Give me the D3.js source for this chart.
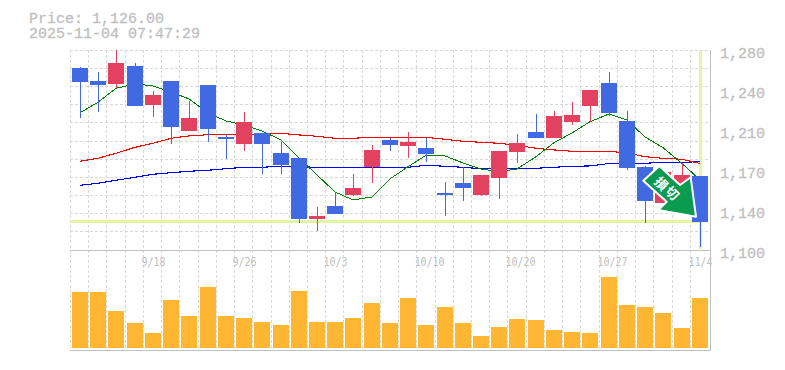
<!DOCTYPE html>
<html>
<head>
<meta charset="utf-8">
<script src="https://cdnjs.cloudflare.com/ajax/libs/d3/7.8.5/d3.min.js"></script>
<style>html,body{margin:0;padding:0;background:#fff;}svg{display:block;}</style>
</head>
<body>
<script>
const titleLines = ["Price: 1,126.00", "2025-11-04 07:47:29"];
const currentPrice = 1126;
const open  = [1264.3,1252.6,1249.9,1266.1,1231,1252.6,1207.6,1249,1202.2,1195.9,1205.8,1187.8,1183.3,1128.4,1140.1,1150,1175.2,1199.5,1194.1,1192.3,1151.8,1160.8,1150,1165.3,1188.7,1206.7,1201.3,1215.7,1230.1,1250.8,1216.6,1175.2,1142.8,1154.5,1167.1];
const high  = [1265.2,1260.7,1280.5,1268.8,1243.6,1252.6,1234.6,1249,1204,1224.7,1205.8,1197.7,1183.3,1139.2,1152.7,1168.9,1195,1201.3,1206.7,1201.3,1161.7,1175.2,1168,1189.6,1204.9,1222.9,1225.6,1233.7,1244.5,1260.7,1225.6,1176.1,1172.5,1178.8,1167.1];
const low   = [1219.3,1224.7,1246.3,1230.1,1220.2,1195.9,1207.6,1197.7,1182.4,1189.6,1168.9,1168.9,1124.8,1117.6,1132.9,1149.1,1160.8,1189.6,1183.3,1179.7,1131.1,1144.6,1149.1,1146.4,1178.8,1201.3,1201.3,1213,1215.7,1221.1,1172.5,1124.8,1142.8,1152.7,1103.2];
const close = [1251.7,1249,1268.8,1230.1,1240,1211.2,1219.3,1209.4,1200.4,1215.7,1195.9,1177,1128.4,1131.1,1132.9,1156.3,1190.5,1195,1197.7,1186.9,1150,1156.3,1168,1189.6,1196.8,1201.3,1221.1,1222,1244.5,1223.8,1174.3,1144.6,1170.7,1168,1126];
const maShort = [1224,1233.4,1246,1249.9,1248.1,1242.7,1236.4,1223.8,1216.6,1213,1207.6,1199.5,1183.3,1168,1152.7,1145.5,1148.2,1164.4,1175.4,1185.7,1185.1,1178.8,1173.4,1170.9,1173.4,1184.4,1197,1205.8,1215.9,1222.9,1217.5,1202.2,1192.5,1178.3,1163.5];
const maMid = [1180.3,1183,1187.5,1192.9,1196.5,1201,1203.1,1204.2,1204.6,1204.6,1204.9,1205.5,1204,1202.8,1201,1201,1201.9,1201.9,1201.9,1201.9,1200.1,1198.3,1197.4,1196.5,1194.7,1192,1190.5,1189.3,1189.3,1189.3,1187.8,1184.4,1183,1182.1,1178.3];
const maLong = [1158.7,1160.5,1163.2,1165.9,1168.6,1170,1171.3,1172.2,1173.6,1174.9,1174.9,1175.8,1175.4,1174.9,1174.9,1174.9,1174.9,1174.9,1174.9,1176.7,1175.8,1174.9,1173.6,1173.6,1173.6,1174,1174.9,1175.8,1176.1,1178.3,1178.5,1178.5,1179.4,1179.4,1179.9];
const volume = [56,56,37,25,15,48,32,61,32,30,26,23,57,26,26,30,45,25,50,23,41,25,12,21,29,28,18,16,15,71,43,41,35,20,50];
const priceTicks = [1280,1244,1208,1172,1136,1100];
const priceLabels = ["1,280","1,240","1,210","1,170","1,140","1,100"];
const dateIndex = [4,9,14,19,24,29,34];
const dateLabels = ["9/18","9/26","10/3","10/10","10/20","10/27","11/4"];
const badgeText = ["損","切"];

const W = 785, H = 370;
const idx = d3.range(close.length);
const band = d3.scaleBand().domain(idx).range([72, 710]);
const left = i => Math.round(band(i));
const mid = i => left(i) + 8;
const y = d3.scaleLinear().domain([1100, 1280]).range([250.5, 50.5]);
const yr = v => Math.round(y(v));
const yv = d3.scaleLinear().domain([0, 100]).range([348, 248]);

const svg = d3.select("body").append("svg").attr("width", W).attr("height", H);
const GREY = "#c0c0c0", GRID = "#d8d8d8", UP = "#e2425f", DOWN = "#4169e1";
const MONO = "'Liberation Mono', monospace";

// titles
svg.selectAll("text.t").data(titleLines).join("text").attr("class", "t")
  .attr("x", 29).attr("y", (d, i) => 23 + i * 15)
  .attr("font-family", MONO).attr("font-size", 15)
  .attr("fill", GREY).attr("stroke", GREY).attr("stroke-width", 0.3).text(d => d);

// grid
svg.append("g").selectAll("line").data(d3.range(11)).join("line")
  .attr("x1", 70).attr("x2", 710)
  .attr("y1", k => 50.5 + Math.round(k * 18.1)).attr("y2", k => 50.5 + Math.round(k * 18.1))
  .attr("stroke", GRID).attr("stroke-dasharray", "3,2");
svg.append("g").selectAll("line").data(idx).join("line")
  .attr("x1", i => left(i) - 1.5).attr("x2", i => left(i) - 1.5)
  .attr("y1", 50).attr("y2", 350)
  .attr("stroke", GRID).attr("stroke-dasharray", "3,2");

// current price guides
svg.append("rect").attr("x", 70).attr("y", yr(currentPrice) - 2).attr("width", 632).attr("height", 3).attr("fill", "#e2f5a6");
svg.append("rect").attr("x", 699).attr("y", 51).attr("width", 3).attr("height", 198).attr("fill", "#e2f5a6");

// frame
svg.append("path").attr("d", "M70,250.5H710.5M70,350.5H710.5M710.5,50V351").attr("stroke", GREY).attr("fill", "none");

// moving averages
const lineGen = d3.line().x((d, i) => mid(i)).y(d => y(d));
[[maLong, "#0000ff", 1.1], [maMid, "#ff0000", 1.1], [maShort, "#008000", 1]].forEach(([s, c, w]) => {
  svg.append("path").datum(s).attr("d", lineGen).attr("fill", "none").attr("stroke", c)
    .attr("stroke-width", w).attr("shape-rendering", "crispEdges");
});

// candles
const cs = svg.append("g").attr("shape-rendering", "crispEdges");
const col = i => close[i] >= open[i] ? UP : DOWN;
cs.selectAll("rect.w").data(idx).join("rect").attr("class", "w")
  .attr("x", i => mid(i)).attr("width", 1)
  .attr("y", i => yr(high[i])).attr("height", i => yr(low[i]) - yr(high[i]))
  .attr("fill", col);
cs.selectAll("rect.b").data(idx).join("rect").attr("class", "b")
  .attr("x", left).attr("width", 16)
  .attr("y", i => yr(Math.max(open[i], close[i])))
  .attr("height", i => Math.max(1, yr(Math.min(open[i], close[i])) - yr(Math.max(open[i], close[i]))))
  .attr("fill", col);

// volume
cs.selectAll("rect.v").data(idx).join("rect").attr("class", "v")
  .attr("x", left).attr("width", 16)
  .attr("y", i => yv(volume[i])).attr("height", i => yv(0) - yv(volume[i]))
  .attr("fill", "#ffb733");

// axis labels
svg.selectAll("text.p").data(priceTicks).join("text").attr("class", "p")
  .attr("x", 720).attr("y", d => y(d) + 7)
  .attr("font-family", MONO).attr("font-size", 15)
  .attr("fill", GREY).attr("stroke", GREY).attr("stroke-width", 0.3).text((d, i) => priceLabels[i]);
svg.selectAll("text.d").data(dateIndex).join("text").attr("class", "d")
  .attr("transform", i => `translate(${mid(i) - 11.5},266) scale(0.83,1)`)
  .attr("font-family", "'DejaVu Sans Mono', monospace").attr("font-size", 12)
  .attr("fill", GREY).text((d, i) => dateLabels[i]);

// badge arrow
svg.append("polygon")
  .attr("points", "643.3,180.7 659.3,166 680,185 690.7,177.3 696,216.7 658.3,210 666.7,201.7")
  .attr("fill", "#0a9a50").attr("stroke", "#fff").attr("stroke-width", 2).attr("stroke-linejoin", "round");
[[661.7, 183.3], [672.7, 192.7]].forEach((p, i) => {
  svg.append("text").attr("transform", `translate(${p[0]},${p[1]}) rotate(45)`)
    .attr("text-anchor", "middle").attr("dominant-baseline", "central")
    .attr("font-family", "'Noto Sans CJK JP', sans-serif").attr("font-weight", 700)
    .attr("font-size", 13).attr("fill", "#fff").text(badgeText[i]);
});
</script>
</body>
</html>
